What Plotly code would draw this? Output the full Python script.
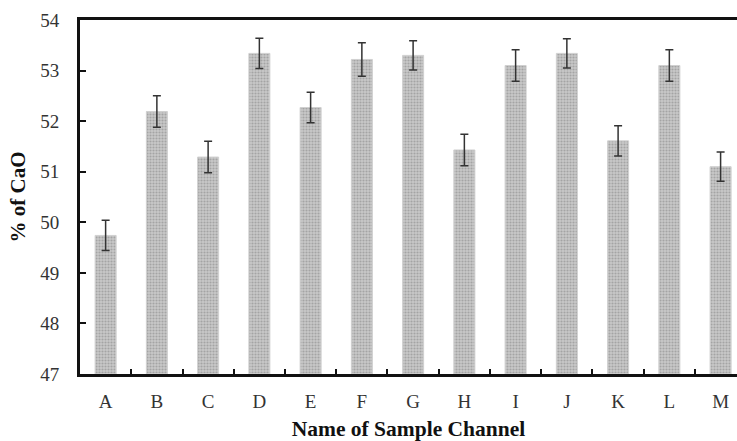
import plotly.graph_objects as go

channels = ["A", "B", "C", "D", "E", "F", "G", "H", "I", "J", "K", "L", "M"]
cao_pct = [49.74, 52.19, 51.29, 53.34, 52.27, 53.22, 53.30, 51.43, 53.10, 53.34, 51.61, 53.10, 51.10]
cao_err = [0.30, 0.31, 0.31, 0.30, 0.30, 0.33, 0.29, 0.31, 0.31, 0.29, 0.30, 0.31, 0.29]
y_ticks = [47, 48, 49, 50, 51, 52, 53, 54]

FONT = "Liberation Serif"

fig = go.Figure()
fig.add_trace(go.Bar(
    x=channels,
    y=[v - 47 for v in cao_pct],
    base=47,
    width=0.41,
    marker=dict(
        color="#c4c4c4",
        line=dict(color="#d0d0d0", width=1),
        pattern=dict(shape=".", fgcolor="#808080", bgcolor="#c8c8c8", size=3, solidity=0.4),
    ),
    error_y=dict(type="data", array=cao_err, visible=True, color="#333333", thickness=1.5, width=4),
    showlegend=False,
))

fig.update_layout(
    width=737, height=441,
    margin=dict(l=80, r=0, t=20, b=67),
    paper_bgcolor="white", plot_bgcolor="white",
    font=dict(family=FONT, color="#222222", size=19),
    bargap=0.59,
)
fig.update_xaxes(
    type="category",
    range=[-0.5, 12.32],
    showline=True, linecolor="#111111", linewidth=3, mirror=True,
    ticks="inside", tickson="boundaries", ticklen=5, tickwidth=2, tickcolor="#111111",
    showgrid=False,
    ticklabelstandoff=8,
    tickfont=dict(family=FONT, size=19, color="#333333"),
    title=dict(text="<b>Name of Sample Channel</b>", font=dict(family=FONT, size=21.5, color="#111111"), standoff=11),
)
fig.update_yaxes(
    range=[47, 54],
    tickvals=y_ticks,
    showline=True, linecolor="#111111", linewidth=3,
    ticks="inside", ticklen=6, tickwidth=2, tickcolor="#111111",
    showgrid=False, zeroline=False,
    ticklabelstandoff=14,
    tickfont=dict(family=FONT, size=19, color="#333333"),
    title=dict(text="<b>% of CaO</b>", font=dict(family=FONT, size=21, color="#111111"), standoff=9),
)

fig.write_html("out.html")
